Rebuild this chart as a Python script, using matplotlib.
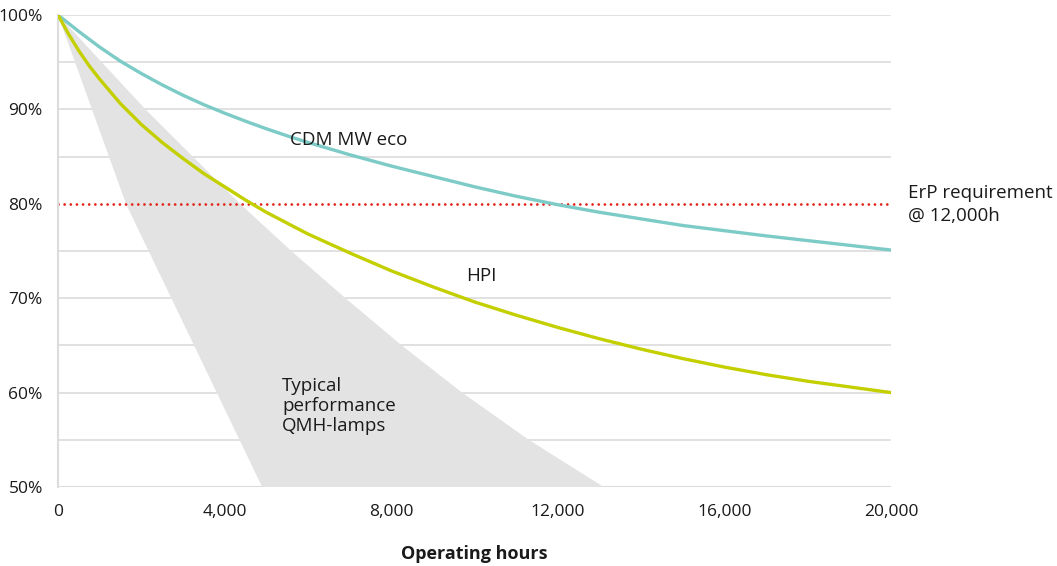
import matplotlib
matplotlib.use("Agg")
import matplotlib.pyplot as plt

# Lumen maintenance (hours, % of initial flux)
cdm_hours = [0, 500, 1000, 1500, 2000, 2500, 3000, 3500, 4000, 4500, 5000, 5500,
             6000, 7000, 8000, 9000, 10000, 11000, 12000, 13000, 14000, 15000,
             16000, 17000, 18000, 19000, 20000]
cdm_pct = [100, 98.25, 96.6, 95.1, 93.8, 92.6, 91.5, 90.5, 89.6, 88.75, 87.95, 87.2,
           86.5, 85.2, 84.0, 82.9, 81.8, 80.8, 79.9, 79.1, 78.4, 77.7,
           77.15, 76.6, 76.1, 75.6, 75.1]

hpi_hours = [0, 250, 500, 750, 1000, 1500, 2000, 2500, 3000, 3500, 4000, 4500,
             5000, 6000, 7000, 8000, 9000, 10000, 11000, 12000, 13000, 14000,
             15000, 16000, 17000, 18000, 19000, 20000]
hpi_pct = [100, 98.0, 96.2, 94.6, 93.2, 90.6, 88.4, 86.5, 84.8, 83.2, 81.8, 80.4,
           79.1, 76.8, 74.8, 72.9, 71.2, 69.6, 68.2, 66.9, 65.7, 64.6,
           63.6, 62.7, 61.9, 61.2, 60.6, 60.0]

# QMH band: fast-degrading and slow-degrading edges
qmh_fast_hours = [0, 1630, 4900]
qmh_fast_pct = [100, 80, 50]
qmh_slow_hours = [0, 2100, 4370, 5600, 6900, 8250, 9700, 11300, 13100]
qmh_slow_pct = [100, 90, 80, 75, 70, 65, 60, 55, 50]

erp_level = 80
x_ticks = [0, 4000, 8000, 12000, 16000, 20000]
x_labels = ["0", "4,000", "8,000", "12,000", "16,000", "20,000"]
y_ticks = [50, 60, 70, 80, 90, 100]
y_labels = ["50%", "60%", "70%", "80%", "90%", "100%"]
y_grid = [55, 60, 65, 70, 75, 85, 90, 95, 100]

plt.rcParams["font.family"] = ["Open Sans", "DejaVu Sans"]
text_col = "#1a1a1a"


def main():
    fig = plt.figure(figsize=(10.57, 5.66), dpi=100)
    ax = fig.add_axes([0.0549, 0.1396, 0.7882, 0.8339])

    for g in y_grid:
        ax.axhline(g, color="#dcdcdc", lw=1.2, zorder=0)
    ax.axhline(50, color="#dcdcdc", lw=1.5, zorder=0)

    # shaded band for typical QMH lamps
    band_x = qmh_fast_hours + qmh_slow_hours[::-1]
    band_y = qmh_fast_pct + qmh_slow_pct[::-1]
    ax.fill(band_x, band_y, color="#e3e3e3", lw=0, zorder=1)

    ax.plot(cdm_hours, cdm_pct, color="#7ccbc7", lw=2.4, zorder=3,
            solid_capstyle="round", solid_joinstyle="round")
    ax.plot(hpi_hours, hpi_pct, color="#c4cf00", lw=2.4, zorder=3,
            solid_capstyle="round", solid_joinstyle="round")
    ax.plot([0, 20000], [erp_level, erp_level], color="#e2231a", lw=2.0,
            linestyle=(0, (0.01, 2.2)), dash_capstyle="round", zorder=2)

    fs = 13.5
    ax.text(5570, 86.8, "CDM MW eco", fontsize=fs, color=text_col,
            va="center", ha="left")
    ax.text(9800, 72.4, "HPI", fontsize=fs, color=text_col,
            va="center", ha="left")
    ax.text(5380, 58.6, "Typical\nperformance\nQMH-lamps", fontsize=fs,
            color=text_col, va="center", ha="left", linespacing=1.13)
    ax.text(20400, 79.9, "ErP requirement\n@ 12,000h", fontsize=fs,
            color=text_col, va="center", ha="left", linespacing=1.38,
            clip_on=False)

    ax.set_xlim(0, 20000)
    ax.set_ylim(50, 100)
    ax.set_xticks(x_ticks)
    ax.set_xticklabels(x_labels)
    ax.set_yticks(y_ticks)
    ax.set_yticklabels(y_labels)
    ax.tick_params(length=0, labelsize=12.5, colors=text_col)
    ax.tick_params(axis="x", pad=12)
    ax.tick_params(axis="y", pad=11)

    for side in ["top", "right", "bottom"]:
        ax.spines[side].set_visible(False)
    ax.spines["left"].set_color("#dcdcdc")
    ax.spines["left"].set_linewidth(1.5)

    ax.set_xlabel("Operating hours", fontsize=13, fontweight="bold",
                  color=text_col, labelpad=18)

    fig.savefig("out.png", dpi=100)


if __name__ == "__main__":
    main()
